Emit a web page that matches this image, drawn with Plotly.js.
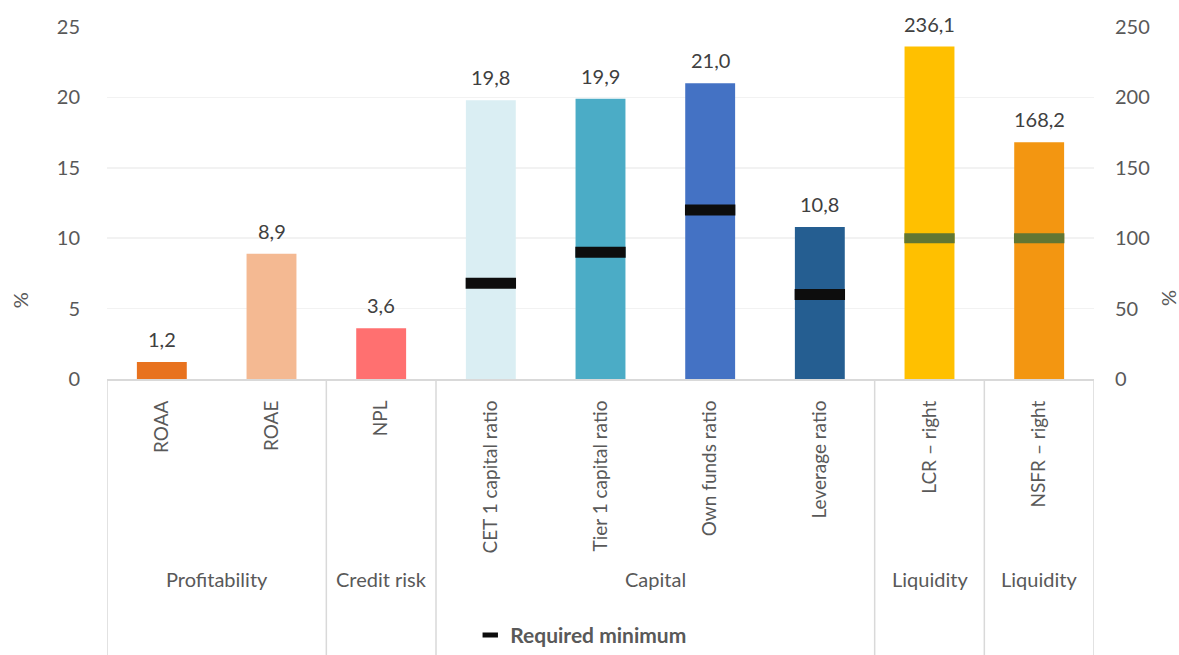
<!DOCTYPE html>
<html>
<head>
<meta charset="utf-8">
<script src="https://cdn.plot.ly/plotly-3.0.1.min.js"></script>
<style>html,body{margin:0;padding:0;background:#fff;}#chart{width:1179px;height:655px;}</style>
</head>
<body>
<div id="chart"></div>
<script>
// ---- data ----
const categories = ['ROAA', 'ROAE', 'NPL', 'CET 1 capital ratio', 'Tier 1 capital ratio', 'Own funds ratio', 'Leverage ratio', 'LCR – right', 'NSFR – right'];
const leftCategories = ['ROAA', 'ROAE', 'NPL', 'CET 1 capital ratio', 'Tier 1 capital ratio', 'Own funds ratio', 'Leverage ratio'];
const leftValues = [1.2, 8.9, 3.6, 19.8, 19.9, 21.0, 10.8];
const leftColors = ['#E8721E', '#F4B992', '#FF7070', '#DAEEF3', '#4BACC6', '#4472C4', '#255E91'];
const rightCategories = ['LCR – right', 'NSFR – right'];
const rightValues = [236.1, 168.2];
const rightColors = ['#FFC000', '#F39611'];
const minLeftCategories = ['CET 1 capital ratio', 'Tier 1 capital ratio', 'Own funds ratio', 'Leverage ratio'];
const minLeftValues = [6.8, 9.0, 12.0, 6.0];
const minRightCategories = ['LCR – right', 'NSFR – right'];
const minRightValues = [100, 100];
const groupLabels = ['Profitability', 'Credit risk', 'Capital', 'Liquidity', 'Liquidity'];
const groupSizes = [2, 1, 4, 1, 1];
const leftTicks = [0, 5, 10, 15, 20, 25];
const rightTicks = [0, 50, 100, 150, 200, 250];

const FONT = 'Lato, "Open Sans", sans-serif';
const TICKC = '#595959';
const FS = 20;
const fmt = v => v.toFixed(1).replace('.', ',');

const traces = [
  {
    type: 'bar', x: leftCategories, y: leftValues, yaxis: 'y',
    marker: {color: leftColors}, width: 0.455,
    showlegend: false, hoverinfo: 'x+y'
  },
  {
    type: 'bar', x: rightCategories, y: rightValues, yaxis: 'y2',
    marker: {color: rightColors}, width: 0.455,
    showlegend: false, hoverinfo: 'x+y'
  },
  {
    type: 'scatter', mode: 'markers', x: minLeftCategories, y: minLeftValues, yaxis: 'y',
    name: 'Required minimum',
    marker: {symbol: 'line-ew', size: 36, color: '#0D0D0D', line: {width: 11, color: '#0D0D0D'}},
    showlegend: false, cliponaxis: false
  },
  {
    type: 'scatter', mode: 'markers', x: minRightCategories, y: minRightValues, yaxis: 'y2',
    name: 'Required minimum',
    marker: {symbol: 'line-ew', size: 36, color: '#627633', line: {width: 10, color: '#627633'}},
    showlegend: false, cliponaxis: false
  },
  {
    // legend entry only
    type: 'scatter', mode: 'markers', x: [null], y: [null], yaxis: 'y',
    name: 'Required minimum',
    marker: {symbol: 'line-ew', size: 11, color: '#0D0D0D', line: {width: 5, color: '#0D0D0D'}},
    showlegend: true
  }
];

// value labels above bars
const annotations = [];
leftCategories.forEach((c, i) => annotations.push({xref: 'x', yref: 'y', x: c, y: leftValues[i], text: fmt(leftValues[i]),
  showarrow: false, yanchor: 'bottom', yshift: 9, font: {family: FONT, size: FS, color: '#404040'}}));
rightCategories.forEach((c, i) => annotations.push({xref: 'x', yref: 'y2', x: c, y: rightValues[i], text: fmt(rightValues[i]),
  showarrow: false, yanchor: 'bottom', yshift: 9, font: {family: FONT, size: FS, color: '#404040'}}));

// group labels and separators derived from group sizes
const shapes = [];
let start = 0;
shapes.push({type: 'line', xref: 'x', yref: 'paper', x0: -0.5, x1: -0.5, y0: 0, y1: -0.8, line: {color: '#D9D9D9', width: 1.5}});
groupLabels.forEach((g, i) => {
  const end = start + groupSizes[i];
  annotations.push({xref: 'x', yref: 'paper', x: (start + end - 1) / 2, y: -0.568, text: g, showarrow: false,
    font: {family: FONT, size: FS, color: TICKC}, yanchor: 'middle'});
  shapes.push({type: 'line', xref: 'x', yref: 'paper', x0: end - 0.5, x1: end - 0.5, y0: 0, y1: -0.8, line: {color: '#D9D9D9', width: 1.5}});
  start = end;
});
annotations.push({xref: 'paper', yref: 'paper', x: -0.088, y: 0.224, xanchor: 'center', yanchor: 'middle', text: '%', showarrow: false, textangle: -90,
  font: {family: FONT, size: FS, color: TICKC}});
annotations.push({xref: 'paper', yref: 'paper', x: 1.075, y: 0.23, xanchor: 'center', yanchor: 'middle', text: '%', showarrow: false, textangle: -90,
  font: {family: FONT, size: FS, color: TICKC}});

const layout = {
  width: 1179, height: 655,
  margin: {l: 107, r: 85, t: 27, b: 276, autoexpand: false},
  paper_bgcolor: '#fff', plot_bgcolor: '#fff',
  separators: ', ',
  barmode: 'overlay',
  font: {family: FONT, size: FS, color: TICKC},
  xaxis: {
    type: 'category', categoryorder: 'array', categoryarray: categories,
    range: [-0.5, categories.length - 0.5], automargin: false,
    tickangle: -90, ticks: 'outside', ticklen: 12, tickcolor: 'rgba(0,0,0,0)',
    showline: true, linecolor: '#D9D9D9', linewidth: 2,
    showgrid: false, tickfont: {family: FONT, size: 19, color: TICKC}, fixedrange: true
  },
  yaxis: {
    range: [0, 25], tickvals: leftTicks, ticktext: leftTicks.map(String), automargin: false,
    showgrid: true, gridcolor: '#F2F2F2', gridwidth: 1.5, zeroline: false,
    ticks: 'outside', ticklen: 22, tickcolor: 'rgba(0,0,0,0)',
    tickfont: {family: FONT, size: FS, color: TICKC}, fixedrange: true
  },
  yaxis2: {
    range: [0, 250], tickvals: rightTicks, ticktext: rightTicks.map(String), automargin: false,
    overlaying: 'y', side: 'right', showgrid: false, zeroline: false,
    ticks: 'outside', ticklen: 16, tickcolor: 'rgba(0,0,0,0)',
    tickfont: {family: FONT, size: FS, color: TICKC}, fixedrange: true
  },
  showlegend: true,
  legend: {
    orientation: 'h', x: 0.48, xanchor: 'center', xref: 'paper',
    yref: 'container', y: 0.03, yanchor: 'middle',
    font: {family: FONT, size: 21, color: TICKC, weight: 'bold'},
    bgcolor: 'rgba(0,0,0,0)', itemwidth: 30
  },
  shapes: shapes,
  annotations: annotations
};

Plotly.newPlot('chart', traces, layout, {displayModeBar: false, staticPlot: true});
</script>
</body>
</html>
